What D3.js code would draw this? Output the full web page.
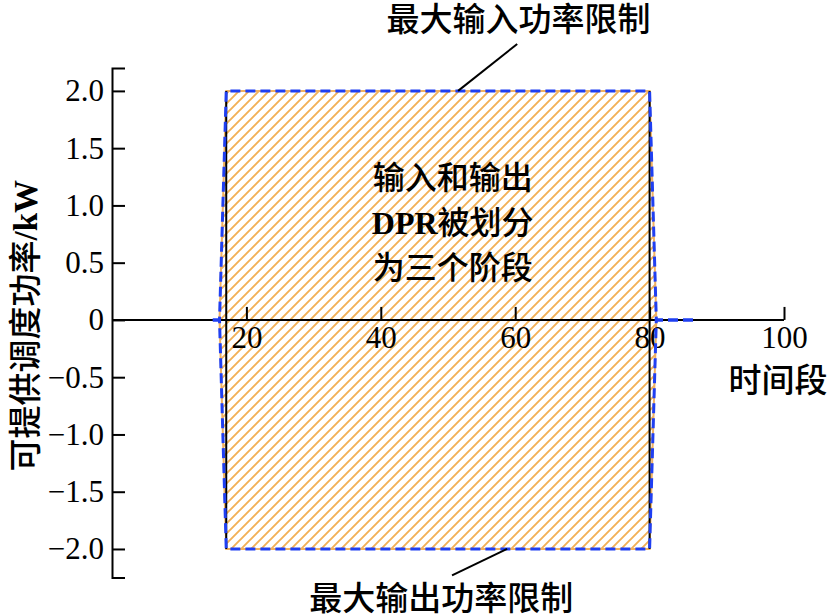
<!DOCTYPE html>
<html><head><meta charset="utf-8">
<script src="https://cdn.jsdelivr.net/npm/d3@7"></script>
<style>body{margin:0;background:#fff}svg{display:block}</style>
</head><body>
<svg id="c" width="828" height="616"></svg>
<script>
// ---- data ----
const times      = [15, 16, 17, 80, 81, 87, 100];
const inputLimit = [0, 0, 2, 2, 0, 0, 0];    // 最大输入功率限制
const outputLimit= [0, 0, -2, -2, 0, 0, 0];  // 最大输出功率限制
const dashedCount = 6;                        // blue boundary drawn up to t=87
const stageBounds = [17, 80];
const xTicks = [20, 40, 60, 80, 100];
const yTicks = [-2, -1.5, -1, -0.5, 0, 0.5, 1, 1.5, 2];
const yLabel = "可提供调度功率/kW";
const xLabel = "时间段";
const topNote = "最大输入功率限制";
const bottomNote = "最大输出功率限制";
const centerLines = ["输入和输出", "DPR被划分", "为三个阶段"];

const svg = d3.select("#c");
const x = d3.scaleLinear().domain([0, 100]).range([112, 784]);
const y = d3.scaleLinear().domain([-2.25, 2.2]).range([577.6, 68]);
const serif = "'Liberation Serif','Noto Sans CJK SC',serif";

const data = times.map((t, i) => ({t, hi: inputLimit[i], lo: outputLimit[i]}));

// hatch pattern
const defs = svg.append("defs");
defs.append("pattern").attr("id", "hatch").attr("patternUnits", "userSpaceOnUse")
  .attr("width", 10).attr("height", 10)
  .append("path").attr("d", "M-1,1 l2,-2 M0,10 l10,-10 M9,11 l2,-2")
  .attr("stroke", "#f2b056").attr("stroke-width", 1.9);

// area
svg.append("path").datum(data)
  .attr("d", d3.area().x(d => x(d.t)).y0(d => y(d.lo)).y1(d => y(d.hi)))
  .attr("fill", "url(#hatch)").attr("stroke", "#f0b060").attr("stroke-width", 2);

// axes
const yAxis = d3.axisLeft(y).tickValues(yTicks).tickSize(-13).tickSizeOuter(-13).tickPadding(8)
  .tickFormat(d => d === 0 ? "0" : d3.format(".1f")(d));
const gy = svg.append("g").attr("transform", `translate(${x(0)},0)`).call(yAxis);
const xAxis = d3.axisBottom(x).tickValues(xTicks).tickSize(-13).tickSizeOuter(0).tickPadding(6);
const gx = svg.append("g").attr("transform", `translate(0,${y(0)})`).call(xAxis);
[gx, gy].forEach(g => {
  g.selectAll("path,line").attr("stroke", "#000").attr("stroke-width", 2);
  g.selectAll("text").attr("font-family", serif).attr("font-size", 31).attr("fill", "#000");
});
gx.select(".domain").attr("d", `M${x(0)},0H${x(100)}`);

// stage boundaries
svg.selectAll(".stage").data(stageBounds).join("line")
  .attr("x1", d => x(d)).attr("x2", d => x(d))
  .attr("y1", y(2)).attr("y2", y(-2))
  .attr("stroke", "#000").attr("stroke-width", 2);

// blue dashed limits
const dashed = data.slice(0, dashedCount);
["hi", "lo"].forEach(k => {
  svg.append("path").datum(dashed)
    .attr("d", d3.line().x(d => x(d.t)).y(d => y(d[k])))
    .attr("fill", "none").attr("stroke", "#1f3ff2").attr("stroke-width", 3)
    .attr("stroke-dasharray", "10,5");
});

// annotation leader lines
const leaders = [[[51.5, 2.0], [60.3, 2.41]], [[58.8, -2.0], [50.6, -2.23]]];
leaders.forEach(l => svg.append("line")
  .attr("x1", x(l[0][0])).attr("y1", y(l[0][1])).attr("x2", x(l[1][0])).attr("y2", y(l[1][1]))
  .attr("stroke", "#000").attr("stroke-width", 2));

// texts
const txt = (tx, ty, s, size) => svg.append("text").attr("x", tx).attr("y", ty)
  .attr("text-anchor", "middle").attr("dominant-baseline", "central")
  .attr("font-family", serif).attr("font-size", size).attr("font-weight", 500).attr("fill", "#000").text(s);

txt(x(60.5), 20, topNote, 33);
txt(x(49), 599, bottomNote, 33);
txt(x(99.1), 381, xLabel, 33);

centerLines.forEach((s, i) => {
  const t = svg.append("text").attr("x", x(50.7)).attr("y", y([1.24, 0.85, 0.45][i]))
    .attr("text-anchor", "middle").attr("dominant-baseline", "central")
    .attr("font-family", serif).attr("font-size", 32).attr("font-weight", 500).attr("fill", "#000");
  if (s.startsWith("DPR")) {
    t.append("tspan").attr("font-weight", "bold").text("DPR");
    t.append("tspan").text(s.slice(3));
  } else t.text(s);
});

const yl = svg.append("text").attr("transform", `translate(26,${y(-0.05)}) rotate(-90)`)
  .attr("text-anchor", "middle").attr("dominant-baseline", "central")
  .attr("font-family", serif).attr("font-size", 33).attr("font-weight", 500).attr("fill", "#000");
yl.append("tspan").text(yLabel.slice(0, 7));
yl.append("tspan").attr("font-weight", "bold").text(yLabel.slice(7));
</script>
</body></html>
